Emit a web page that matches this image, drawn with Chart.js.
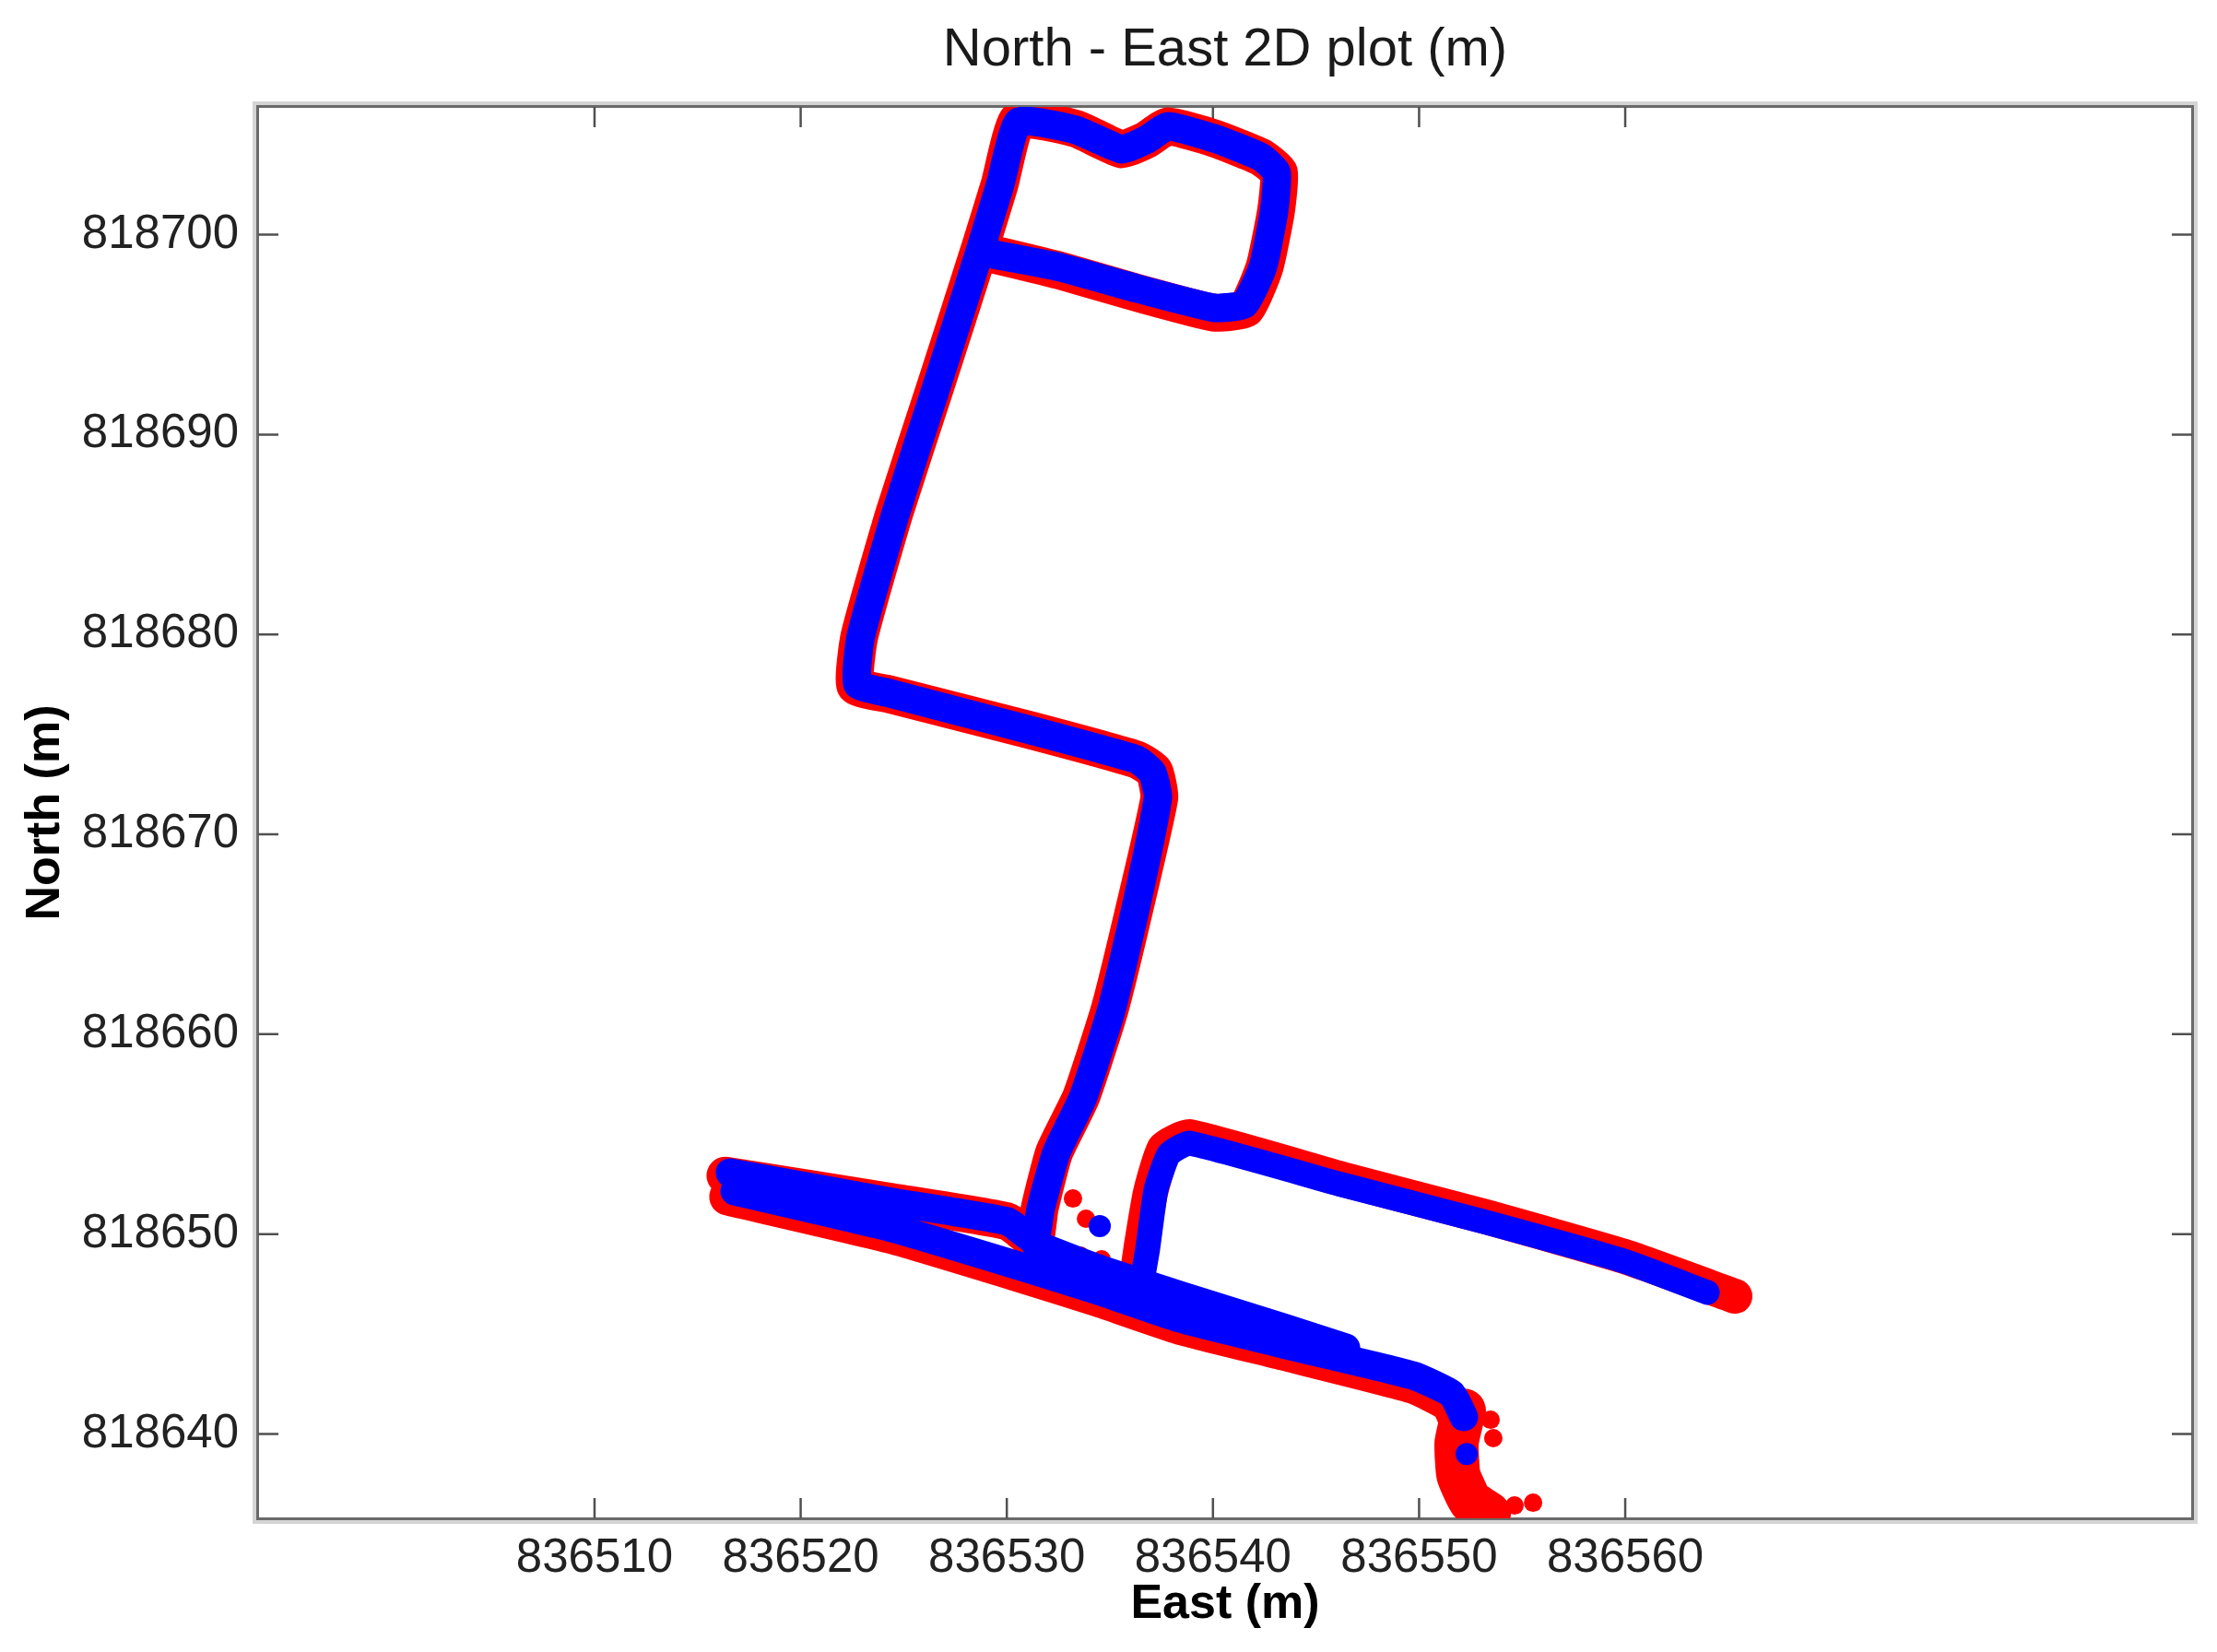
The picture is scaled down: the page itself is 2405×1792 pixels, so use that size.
<!DOCTYPE html>
<html>
<head>
<meta charset="utf-8">
<title>North - East 2D plot (m)</title>
<script src="https://cdn.jsdelivr.net/npm/chart.js@4.4.1/dist/chart.umd.min.js"></script>
<style>
  html, body { margin: 0; padding: 0; background: #fff; }
  #wrap { width: 2405px; height: 1792px; }
</style>
</head>
<body>
<div id="wrap"><canvas id="plot" width="2405" height="1792"></canvas></div>
<script>
// Axis ticks
const xTicks = [836510, 836520, 836530, 836540, 836550, 836560];
const yTicks = [818640, 818650, 818660, 818670, 818680, 818690, 818700];

// Filtered track (blue), one pair of arrays per continuous stretch
const blueLoopE = [836516.57, 836524.45, 836530.04, 836531.33, 836531.65, 836532.41, 836533.70, 836535.09, 836536.30, 836537.33,
  836537.06, 836536.30, 836531.15, 836524.31, 836522.75, 836522.92, 836524.62, 836526.55, 836528.74, 836529.68,
  836530.57, 836533.35, 836535.58, 836536.74, 836537.82, 836540.05, 836542.29, 836543.09, 836542.96, 836542.42,
  836541.53, 836540.05, 836536.30, 836532.58, 836529.36];
const blueLoopN = [818653.07, 818651.60, 818650.63, 818649.71, 818651.32, 818654.09, 818656.85, 818661.28, 818666.54, 818671.84,
  818673.09, 818673.74, 818675.21, 818677.06, 818677.52, 818679.92, 818686.10, 818692.28, 818699.34, 818702.52,
  818705.65, 818705.24, 818704.27, 818704.73, 818705.42, 818704.82, 818703.90, 818703.12, 818701.13, 818698.37,
  818696.52, 818696.34, 818697.31, 818698.37, 818699.01];

const blueSouthE = [836516.80, 836524.45, 836530.44, 836534.42, 836538.40, 836543.41, 836549.71, 836551.59, 836552.17];
const blueSouthN = [818652.15, 818650.30, 818648.46, 818647.17, 818645.78, 818644.49, 818642.92, 818642.00, 818640.85];

const blueSplitE = [836531.42, 836534.42, 836538.40, 836543.41, 836546.45];
const blueSplitN = [818649.47, 818648.28, 818646.94, 818645.32, 818644.31];

const blueEastE = [836536.52, 836536.83, 836537.24, 836537.86, 836538.85, 836546.27, 836553.11, 836559.96, 836563.98];
const blueEastN = [818647.40, 818649.24, 818652.24, 818653.99, 818654.55, 818652.47, 818650.63, 818648.64, 818647.08];

const blueDotsE = [836534.51, 836552.31];
const blueDotsN = [818650.40, 818639.00];

// Raw GPS track (red)
const redLoopE = [836516.35, 836524.45, 836530.04, 836531.33, 836531.60, 836532.30, 836533.60, 836535.00, 836536.25, 836537.40,
  836537.15, 836536.30, 836531.15, 836524.31, 836522.65, 836522.85, 836524.55, 836526.50, 836528.70, 836529.65,
  836530.55, 836533.35, 836535.58, 836536.74, 836537.82, 836540.05, 836542.29, 836543.20, 836543.05, 836542.50,
  836541.60, 836540.05, 836536.30, 836532.58, 836529.36];
const redLoopN = [818652.93, 818651.60, 818650.63, 818649.71, 818651.32, 818654.09, 818656.85, 818661.28, 818666.54, 818671.84,
  818673.15, 818673.74, 818675.21, 818677.00, 818677.45, 818679.92, 818686.10, 818692.28, 818699.34, 818702.52,
  818705.75, 818705.30, 818704.27, 818704.73, 818705.42, 818704.82, 818703.90, 818703.12, 818701.13, 818698.37,
  818696.30, 818696.10, 818697.10, 818698.20, 818699.01];

const redSouthE = [836516.48, 836524.45, 836530.44, 836534.42, 836538.40, 836543.41, 836549.71, 836551.46, 836551.95];
const redSouthN = [818651.87, 818649.94, 818648.09, 818646.80, 818645.41, 818644.12, 818642.46, 818641.54, 818640.48];

const redTailE = [836552.17, 836551.82, 836551.91, 836552.49, 836553.38];
const redTailN = [818641.17, 818639.56, 818637.95, 818636.65, 818636.01];

const redEastE = [836536.25, 836536.52, 836536.97, 836537.64, 836538.85, 836546.27, 836553.11, 836559.96, 836565.32];
const redEastN = [818647.40, 818649.38, 818652.08, 818654.27, 818654.87, 818652.75, 818650.90, 818648.88, 818646.89];

const redDotsE = [836533.21, 836533.84, 836532.58, 836533.57, 836534.60, 836553.47, 836553.60, 836554.63, 836555.53];
const redDotsN = [818651.78, 818650.77, 818649.20, 818648.92, 818648.74, 818640.71, 818639.79, 818636.42, 818636.56];

const BLUE = '#0000ff';
const RED = '#ff0000';
const TICK = 22;

function pts(e, n) {
    return e.map((v, i) => ({ x: v, y: n[i] }));
}

// One continuous stretch of track
function track(e, n, color, width, order) {
    return {
        data: pts(e, n),
        showLine: true,
        borderColor: color,
        backgroundColor: color,
        borderWidth: width,
        borderCapStyle: 'round',
        borderJoinStyle: 'round',
        tension: 0.15,
        pointRadius: 0,
        order: order
    };
}

// Loose fixes
function dots(e, n, color, radius, order) {
    return {
        data: pts(e, n),
        showLine: false,
        backgroundColor: color,
        borderWidth: 0,
        pointRadius: radius,
        order: order
    };
}

// Box around the plot with inward ticks on all four sides
const frame = {
    id: 'frame',
    beforeDatasetsDraw(chart) {
        const { ctx, chartArea: a, scales } = chart;
        ctx.save();
        ctx.strokeStyle = '#d4d4d4';
        ctx.lineWidth = 4;
        ctx.strokeRect(a.left - 4, a.top - 4, a.width + 8, a.height + 8);
        ctx.strokeStyle = '#6a6a6a';
        ctx.lineWidth = 3;
        ctx.strokeRect(a.left - 0.5, a.top - 0.5, a.width + 1, a.height + 1);

        ctx.strokeStyle = '#505050';
        ctx.lineWidth = 2.5;
        ctx.beginPath();
        xTicks.forEach(v => {
            const px = scales.x.getPixelForValue(v);
            ctx.moveTo(px, a.bottom);
            ctx.lineTo(px, a.bottom - TICK);
            ctx.moveTo(px, a.top);
            ctx.lineTo(px, a.top + TICK);
        });
        yTicks.forEach(v => {
            const py = scales.y.getPixelForValue(v);
            ctx.moveTo(a.left, py);
            ctx.lineTo(a.left + TICK, py);
            ctx.moveTo(a.right, py);
            ctx.lineTo(a.right - TICK, py);
        });
        ctx.stroke();
        ctx.restore();
    }
};

const tickFont = { family: '"Liberation Sans", Arial, sans-serif', size: 51 };
const labelFont = { family: '"Liberation Sans", Arial, sans-serif', size: 52, weight: 'bold' };

new Chart(document.getElementById('plot'), {
    type: 'scatter',
    data: {
        datasets: [
            track(blueLoopE, blueLoopN, BLUE, 31, 1),
            track(blueSouthE, blueSouthN, BLUE, 31, 1),
            track(blueSplitE, blueSplitN, BLUE, 31, 1),
            track(blueEastE, blueEastN, BLUE, 27, 1),
            dots(blueDotsE, blueDotsN, BLUE, 12, 1),
            track(redLoopE, redLoopN, RED, 41, 2),
            track(redSouthE, redSouthN, RED, 41, 2),
            track(redTailE, redTailN, RED, 48, 2),
            track(redEastE, redEastN, RED, 38, 2),
            dots(redDotsE, redDotsN, RED, 10, 2)
        ]
    },
    options: {
        responsive: false,
        animation: false,
        events: [],
        layout: {
            padding: { left: 0, right: 27, top: 0, bottom: 0 }
        },
        plugins: {
            legend: { display: false },
            tooltip: { enabled: false },
            title: {
                display: true,
                fullSize: false,
                text: 'North - East 2D plot (m)',
                color: '#1a1a1a',
                font: { family: '"Liberation Sans", Arial, sans-serif', size: 58, weight: 'normal', lineHeight: 1.2 },
                padding: { top: 20, bottom: 26.4 }
            }
        },
        scales: {
            x: {
                type: 'linear',
                min: 836493.68,
                max: 836587.5,
                grid: { display: false },
                border: { display: false },
                afterBuildTicks: axis => { axis.ticks = xTicks.map(v => ({ value: v })); },
                afterFit: axis => { axis.height = 145; },
                ticks: {
                    font: tickFont,
                    color: '#222',
                    padding: 5,
                    maxRotation: 0,
                    autoSkip: false,
                    callback: v => String(v)
                },
                title: {
                    display: true,
                    text: 'East (m)',
                    color: '#000',
                    font: labelFont,
                    padding: { top: 0, bottom: 20 }
                }
            },
            y: {
                type: 'linear',
                min: 818635.78,
                max: 818706.39,
                grid: { display: false },
                border: { display: false },
                afterBuildTicks: axis => { axis.ticks = yTicks.map(v => ({ value: v })); },
                afterFit: axis => { axis.width = 280; },
                ticks: {
                    font: tickFont,
                    color: '#222',
                    padding: 13,
                    autoSkip: false,
                    callback: v => String(v)
                },
                title: {
                    display: true,
                    text: 'North (m)',
                    color: '#000',
                    font: labelFont,
                    padding: { top: 18, bottom: 0 }
                }
            }
        }
    },
    plugins: [frame]
});
</script>
</body>
</html>
